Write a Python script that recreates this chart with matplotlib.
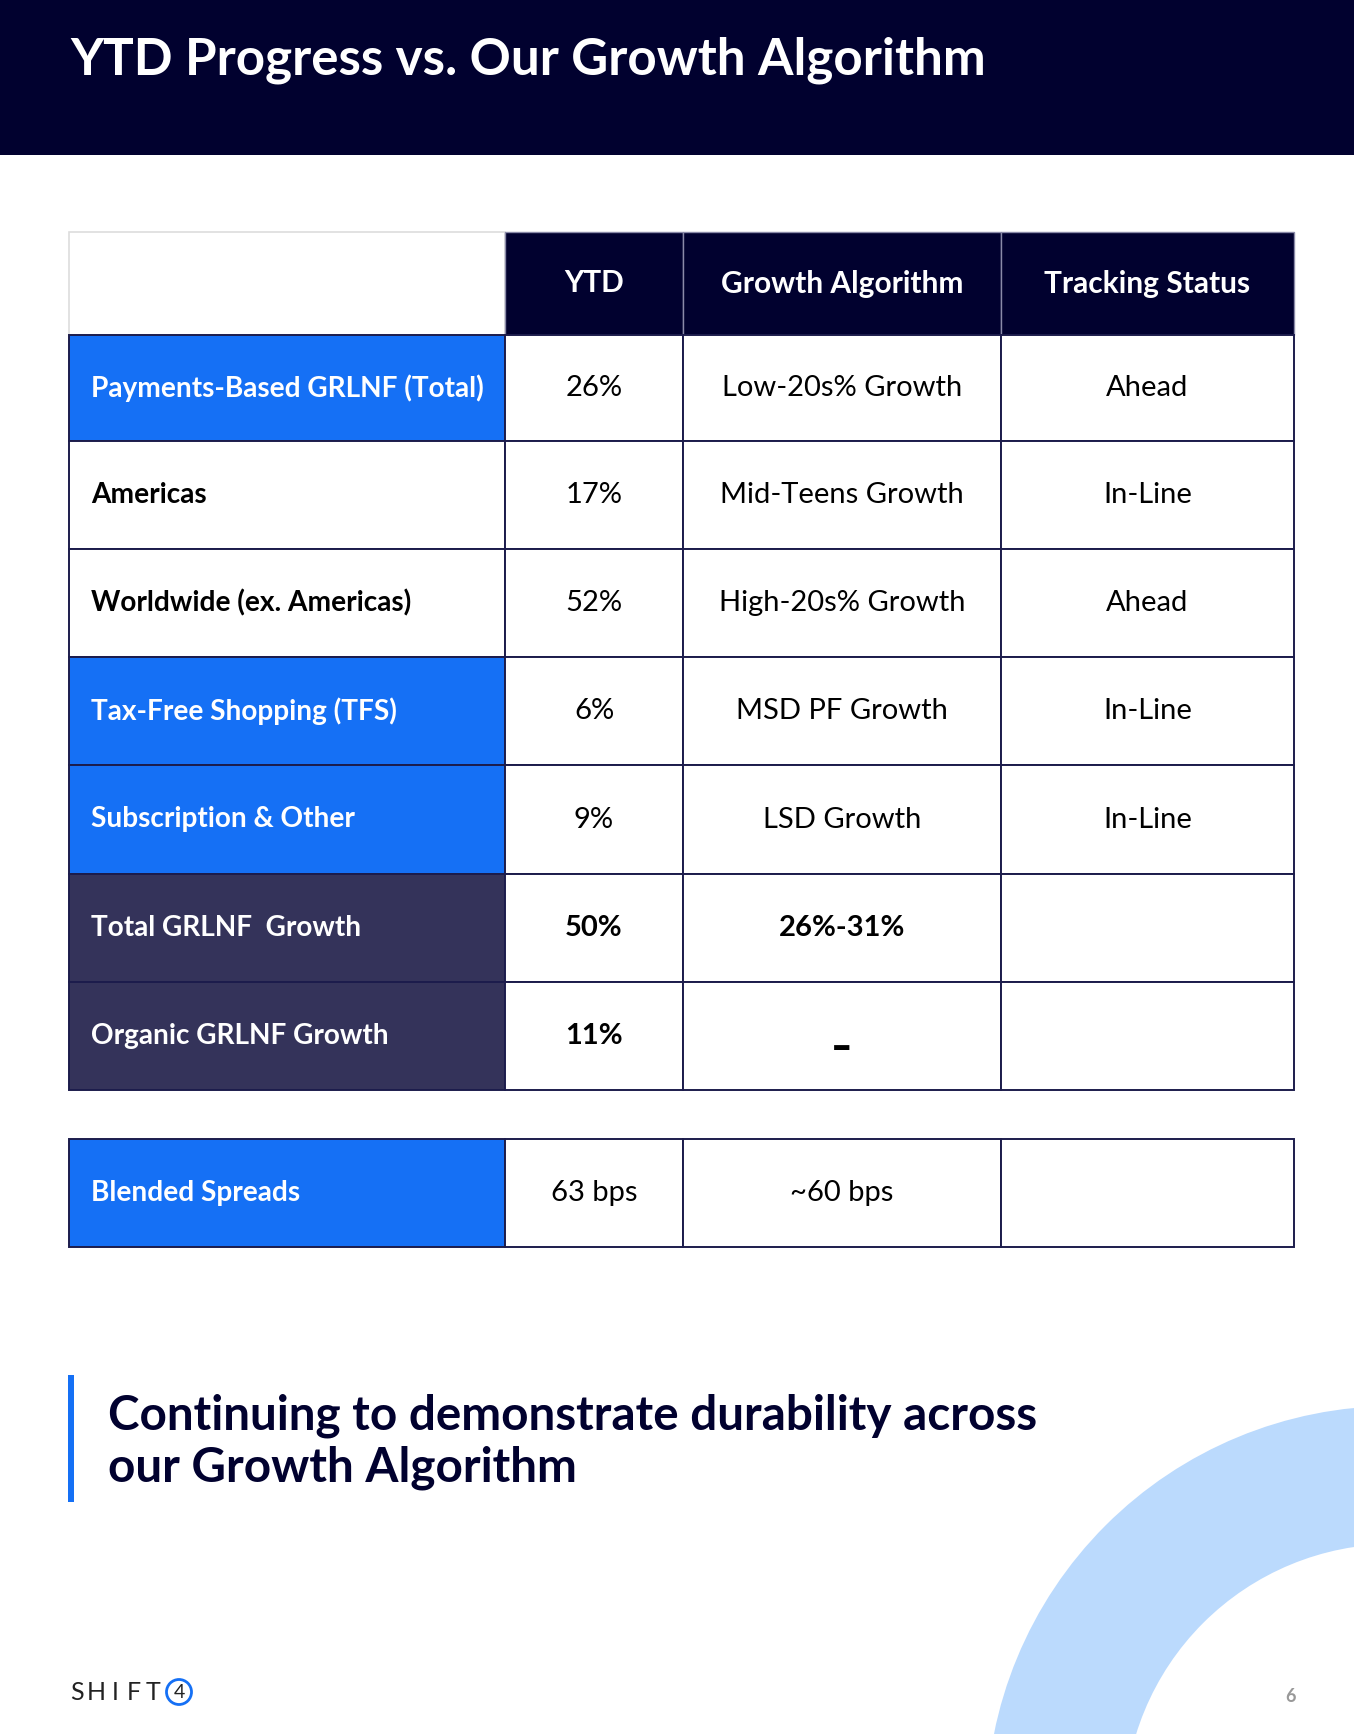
import numpy as np
import matplotlib.pyplot as plt
from matplotlib.patches import Rectangle, Wedge, Circle

# table content
row_labels = ['Payments-Based GRLNF (Total)', 'Americas', 'Worldwide (ex. Americas)',
              'Tax-Free Shopping (TFS)', 'Subscription & Other',
              'Total GRLNF  Growth', 'Organic GRLNF Growth']
col_headers = ['YTD', 'Growth Algorithm', 'Tracking Status']
ytd = ['26%', '17%', '52%', '6%', '9%', '50%', '11%']
algorithm = ['Low-20s% Growth', 'Mid-Teens Growth', 'High-20s% Growth', 'MSD PF Growth',
             'LSD Growth', '26%-31%', '–']
tracking = ['Ahead', 'In-Line', 'Ahead', 'In-Line', 'In-Line', '', '']
row_kind = ['blue', 'white', 'white', 'blue', 'blue', 'dark', 'dark']
bold_values = [False, False, False, False, False, True, True]

spread_label = 'Blended Spreads'
spread_values = ['63 bps', '~60 bps', '']

title = 'YTD Progress vs. Our Growth Algorithm'
tagline = 'Continuing to demonstrate durability across\nour Growth Algorithm'

NAVY = '#01012f'
BLUE = '#1570f5'
DARK = '#34335a'
LIGHT = '#bbdafd'
LINE = '#1c1c4c'
fills = {'blue': BLUE, 'white': 'white', 'dark': DARK}

plt.rcParams['font.family'] = ['Lato', 'DejaVu Sans']

W, H = 1354, 1734
fig = plt.figure(figsize=(W / 100, H / 100), dpi=100)
ax = fig.add_axes([0, 0, 1, 1])
ax.set_xlim(0, W)
ax.set_ylim(H, 0)
ax.axis('off')

# background arc
ax.add_patch(Wedge((1394, 1814), 408, 180, 270, width=138, color=LIGHT, lw=0))

# header band
ax.add_patch(Rectangle((0, 0), W, 155, color=NAVY, lw=0))
ax.text(70, 60, title, color='white', fontsize=36.8, fontweight='bold', va='center', ha='left')

col_x = [69, 505, 683, 1001, 1294]
row_y = [232, 335, 441, 549, 657, 765, 874, 982, 1090]
spread_y = [1139, 1247]
label_pad = 22

# header row
ax.add_patch(Rectangle((col_x[0], row_y[0]), col_x[1] - col_x[0], row_y[1] - row_y[0],
                       facecolor='white', edgecolor='#dddddd', lw=1.2))
for j, h in enumerate(col_headers):
    x0, x1 = col_x[j + 1], col_x[j + 2]
    ax.add_patch(Rectangle((x0, row_y[0]), x1 - x0, row_y[1] - row_y[0],
                           facecolor=NAVY, edgecolor='#8a8aa8', lw=1.0))
    ax.text((x0 + x1) / 2, (row_y[0] + row_y[1]) / 2, h, color='white', fontsize=21.5,
            fontweight='bold', ha='center', va='center')


def draw_row(y0, y1, label, kind, values, bold):
    ax.add_patch(Rectangle((col_x[0], y0), col_x[1] - col_x[0], y1 - y0,
                           facecolor=fills[kind], edgecolor=LINE, lw=1.4))
    ax.text(col_x[0] + label_pad, (y0 + y1) / 2, label,
            color='black' if kind == 'white' else 'white',
            fontsize=20.2, fontweight='bold', ha='left', va='center')
    for j, v in enumerate(values):
        x0, x1 = col_x[j + 1], col_x[j + 2]
        ax.add_patch(Rectangle((x0, y0), x1 - x0, y1 - y0,
                               facecolor='white', edgecolor=LINE, lw=1.4))
        if v == '–':
            ax.text((x0 + x1) / 2, (y0 + y1) / 2 + 11, v, color='black', fontsize=28,
                    fontweight='bold', ha='center', va='center', family='DejaVu Sans')
            continue
        ax.text((x0 + x1) / 2, (y0 + y1) / 2, v, color='black', fontsize=21,
                fontweight='bold' if bold else 'normal', ha='center', va='center')


for i in range(len(row_labels)):
    draw_row(row_y[i + 1], row_y[i + 2], row_labels[i], row_kind[i],
             [ytd[i], algorithm[i], tracking[i]], bold_values[i])

draw_row(spread_y[0], spread_y[1], spread_label, 'blue', spread_values, False)

# tagline with accent bar
ax.add_patch(Rectangle((68, 1375), 6, 127, color=BLUE, lw=0))
ax.text(108, 1442, tagline, color=NAVY, fontsize=34.3, fontweight='bold',
        ha='left', va='center', linespacing=1.22)

# logo and page number
for k, ch in enumerate('SHIFT'):
    ax.text(77 + k * 19, 1693, ch, color='#222222', fontsize=18, ha='center', va='center')
ax.add_patch(Circle((179, 1692), 12.5, facecolor='white', edgecolor=BLUE, lw=2))
ax.text(179, 1693, '4', color='#222222', fontsize=14, ha='center', va='center')
ax.text(1290, 1697, '6', color='#999999', fontsize=13, fontweight='bold',
        ha='center', va='center')

fig.savefig('out.png', dpi=100)
